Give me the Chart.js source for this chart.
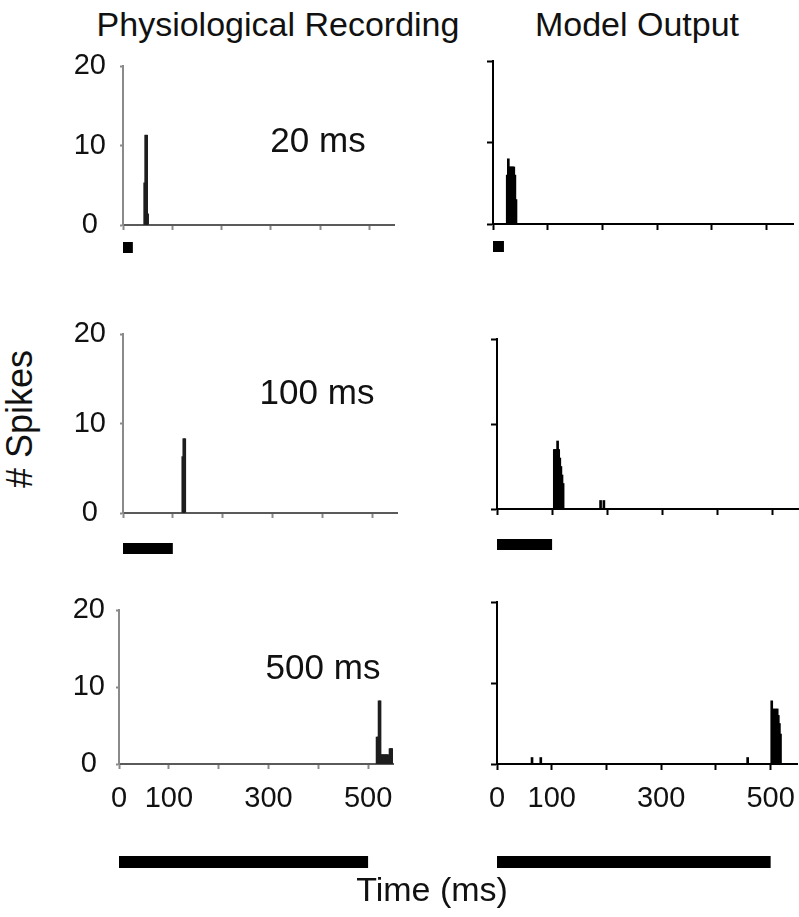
<!DOCTYPE html>
<html>
<head>
<meta charset="utf-8">
<script src="https://cdn.jsdelivr.net/npm/chart.js@4"></script>
<style>
  html, body { margin: 0; padding: 0; background: #fff; overflow: hidden; }
  #page { position: relative; width: 799px; height: 917px; }
  canvas { position: absolute; }
  .lbl { position: absolute; transform: translate(-50%, -50%); white-space: nowrap;
         font-family: "Liberation Sans", Arial, sans-serif; color: #111; line-height: 1; }
</style>
</head>
<body>
<div id="page"></div>
<script>
// axes
const xTickValues = [0, 100, 200, 300, 400, 500];
const xTickLabels = ['0', '100', '', '300', '', '500'];
const yTickValues = [0, 10, 20];
const yTickLabels = ['0', '10', '20'];

// stimulus durations (ms)
const stimulusMs = [20, 100, 500];
const stimulusLabels = ['20 ms', '100 ms', '500 ms'];

// physiological recording, spikes per bin
const physTime20 = [44, 46, 48, 50];
const physCount20 = [5.3, 11.3, 11.3, 1.4];
const physTime100 = [120, 122, 124];
const physCount100 = [6.3, 8.3, 8.3];
const physTime500 = [518, 520, 522, 524, 526, 528, 530, 532, 534, 536, 538, 540, 542, 544, 546, 548];
const physCount500 = [3.5, 3.5, 8.2, 8.2, 1.2, 1.2, 1.2, 1.2, 1.2, 1.2, 1.2, 1.2, 0.5, 2, 2, 2];

// model output, spikes per bin
const modelTime20 = [26, 28, 30, 32, 34, 36, 38, 40, 42];
const modelCount20 = [6, 8, 7, 7, 7, 7, 7, 6, 3];
const modelTime100 = [104, 106, 108, 110, 112, 114, 116, 118, 120, 188, 194];
const modelCount100 = [7, 7, 7, 8, 7, 6, 5, 4, 3, 1, 1];
const modelTime500 = [64, 80, 458, 502, 504, 506, 508, 510, 512, 514, 516, 518];
const modelCount500 = [0.8, 0.8, 0.8, 7.8, 6.8, 6.3, 6.8, 6.3, 6.8, 6, 5, 3.7];

const FONT = '"Liberation Sans", Arial, sans-serif';

// where each panel sits on the page (pixel of t=0, of t=500, of y=20, of y=0)
const panels = [
  { row: 0, side: 'left',  x0: 123, x500: 369, yTop: 66,  yBot: 225, t: physTime20,   c: physCount20,   yPad: 14 },
  { row: 0, side: 'right', x0: 493, x500: 767, yTop: 61,  yBot: 224, t: modelTime20,  c: modelCount20 },
  { row: 1, side: 'left',  x0: 123, x500: 372, yTop: 334, yBot: 513, t: physTime100,  c: physCount100,  yPad: 14 },
  { row: 1, side: 'right', x0: 497, x500: 772, yTop: 339, yBot: 509, t: modelTime100, c: modelCount100 },
  { row: 2, side: 'left',  x0: 119, x500: 368, yTop: 610, yBot: 764, t: physTime500,  c: physCount500,  yPad: 11 },
  { row: 2, side: 'right', x0: 497, x500: 771, yTop: 602, yBot: 764, t: modelTime500, c: modelCount500 },
];
// stimulus bar below each row: offset from axis and height
const stimGeom = [{ off: 17, h: 11 }, { off: 30, h: 11 }, { off: 92, h: 12 }];
const xAxisHeight = [32, 44, 108];

// draws the black stimulus bar under the x axis
const stimBar = {
  id: 'stimBar',
  afterDraw(chart, args, opts) {
    const x = chart.scales.x;
    const ctx = chart.ctx;
    const a = x.getPixelForValue(0), b = x.getPixelForValue(opts.dur);
    ctx.save();
    ctx.fillStyle = '#000';
    ctx.fillRect(a, chart.chartArea.bottom + opts.off, b - a, opts.h);
    ctx.restore();
  }
};

const page = document.getElementById('page');

panels.forEach(p => {
  const left = p.side === 'left';
  const yw = left ? 60 : 14;
  const padTop = left ? 20 : 6;
  const padRight = left ? 4 : 0;
  const areaW = Math.round((p.x500 - p.x0) * 550 / 500);
  const xh = xAxisHeight[p.row];
  const axisCol = left ? '#8a8a8a' : '#000';
  const baseCol = left ? '#5a5a5a' : '#000';
  const bottomRow = p.row === 2;

  const cv = document.createElement('canvas');
  cv.width = yw + areaW + padRight;
  cv.height = padTop + (p.yBot - p.yTop) + xh;
  cv.style.left = (p.x0 - yw) + 'px';
  cv.style.top = (p.yTop - padTop) + 'px';
  page.appendChild(cv);

  new Chart(cv, {
    type: 'bar',
    data: {
      datasets: [{
        data: p.t.map((t, i) => ({ x: t, y: p.c[i] })),
        backgroundColor: left ? '#1e1e1e' : '#000',
        borderWidth: 0,
        barThickness: 2
      }]
    },
    options: {
      responsive: false,
      animation: false,
      devicePixelRatio: 1,
      layout: { padding: { top: padTop, right: padRight, left: 0, bottom: 0 } },
      plugins: {
        legend: { display: false },
        tooltip: { enabled: false },
        stimBar: { dur: stimulusMs[p.row], off: stimGeom[p.row].off, h: stimGeom[p.row].h }
      },
      scales: {
        x: {
          type: 'linear', min: 0, max: 550, offset: false,
          grid: { offset: false, drawOnChartArea: false, drawTicks: true,
                  tickLength: left ? 5 : 6, tickWidth: 2, tickColor: axisCol },
          border: { color: baseCol, width: 2 },
          afterBuildTicks: s => { s.ticks = xTickValues.map(v => ({ value: v })); },
          ticks: {
            autoSkip: false, maxRotation: 0, padding: left ? 13 : 12,
            color: '#111', font: { family: FONT, size: 29 },
            callback: (v, i) => bottomRow ? xTickLabels[i] : ''
          },
          afterFit: s => { s.height = xh; s.paddingLeft = 0; s.paddingRight = 0; s.paddingTop = 0; s.paddingBottom = 0; }
        },
        y: {
          min: 0, max: 20,
          grid: { drawOnChartArea: false, drawTicks: true,
                  tickLength: left ? 3 : 6, tickWidth: 2, tickColor: axisCol },
          border: { color: axisCol, width: 2 },
          afterBuildTicks: s => { s.ticks = yTickValues.map(v => ({ value: v })); },
          ticks: {
            crossAlign: 'center', padding: p.yPad || 0,
            color: '#111', font: { family: FONT, size: 29 },
            callback: (v, i) => left ? yTickLabels[i] : ''
          },
          afterFit: s => { s.width = yw; s.paddingLeft = 0; s.paddingRight = 0; s.paddingTop = 0; s.paddingBottom = 0; }
        }
      }
    },
    plugins: [stimBar]
  });
});

// page texts
const texts = [
  { s: 'Physiological Recording', x: 278, y: 24, size: 34 },
  { s: 'Model Output', x: 637, y: 24, size: 34 },
  { s: '# Spikes', x: 20, y: 419, size: 36, rot: true },
  { s: 'Time (ms)', x: 432, y: 889, size: 34 },
  { s: stimulusLabels[0], x: 318, y: 139, size: 35 },
  { s: stimulusLabels[1], x: 317, y: 391, size: 35 },
  { s: stimulusLabels[2], x: 323, y: 666, size: 35 },
];
texts.forEach(t => {
  const d = document.createElement('div');
  d.className = 'lbl';
  d.textContent = t.s;
  d.style.left = t.x + 'px';
  d.style.top = t.y + 'px';
  d.style.fontSize = t.size + 'px';
  if (t.rot) d.style.transform = 'translate(-50%, -50%) rotate(-90deg)';
  page.appendChild(d);
});
</script>
</body>
</html>
